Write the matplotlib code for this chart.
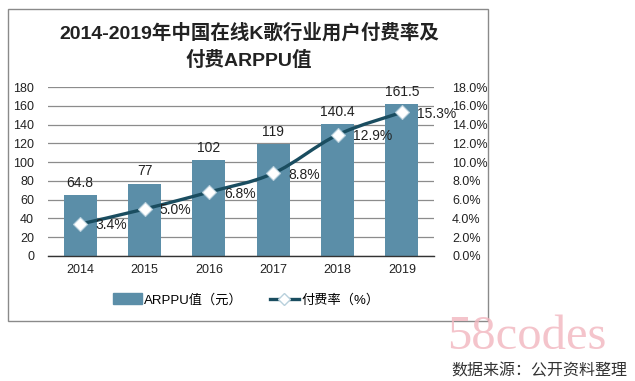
import numpy as np
import matplotlib
matplotlib.use('Agg')
import matplotlib.pyplot as plt
from matplotlib.path import Path
from matplotlib.patches import PathPatch, Rectangle
from matplotlib.lines import Line2D

plt.rcParams['font.family'] = ['Liberation Sans', 'Noto Sans CJK SC']

# --- data ---
years = ['2014', '2015', '2016', '2017', '2018', '2019']
arppu = [64.8, 77, 102, 119, 140.4, 161.5]
pay_rate = [3.4, 5.0, 6.8, 8.8, 12.9, 15.3]
arppu_labels = ['64.8', '77', '102', '119', '140.4', '161.5']
left_ticks = list(range(0, 181, 20))
right_ticks = [0, 2, 4, 6, 8, 10, 12, 14, 16, 18]

bar_color = '#5b8ea8'
line_color = '#1a4d60'
grid_color = '#8c8c8c'

fig = plt.figure(figsize=(6.35, 3.81), dpi=100)

# outer frame of the chart
fig.patches.append(Rectangle((8 / 635, 1 - 321 / 381), 480 / 635, 312 / 381,
                             transform=fig.transFigure, fill=False,
                             edgecolor='#8a8a8a', linewidth=1.0))

ax = fig.add_axes([48 / 635, 1 - 256 / 381, 386 / 635, 169 / 381])
x = np.arange(len(years))
ax.bar(x, arppu, width=0.51, color=bar_color, zorder=2)
ax.set_xlim(-0.5, len(years) - 0.5)
ax.set_ylim(0, 180)
ax.set_yticks(left_ticks)
ax.set_xticks(x)
ax.set_xticklabels(years)
ax.yaxis.grid(True, color=grid_color, linewidth=0.9, zorder=0)
ax.set_axisbelow(True)
for s in ['top', 'left', 'right']:
    ax.spines[s].set_visible(False)
ax.spines['bottom'].set_color('#333333')
ax.spines['bottom'].set_linewidth(1.0)
ax.tick_params(axis='both', length=0, labelsize=9, colors='#222222')
ax.tick_params(axis='y', pad=10)
ax.tick_params(axis='x', pad=6)

for xi, v, lab in zip(x, arppu, arppu_labels):
    ax.annotate(lab, (xi, v), xytext=(0, 4), textcoords='offset points',
                ha='center', va='bottom', fontsize=10, color='#222222')

ax2 = ax.twinx()
ax2.set_ylim(0, 18)
ax2.set_yticks(right_ticks)
ax2.set_yticklabels(['%.1f%%' % t for t in right_ticks])
for s in ['top', 'left', 'right', 'bottom']:
    ax2.spines[s].set_visible(False)
ax2.tick_params(axis='y', length=0, labelsize=9, colors='#222222', pad=13)

# smoothed line (Bezier through the data points)
px = x.astype(float)
py = np.array(pay_rate, dtype=float)
verts = [(px[0], py[0])]
codes = [Path.MOVETO]
t = 0.17
for i in range(len(px) - 1):
    p0 = (px[i - 1], py[i - 1]) if i > 0 else (px[i], py[i])
    p1 = (px[i], py[i])
    p2 = (px[i + 1], py[i + 1])
    p3 = (px[i + 2], py[i + 2]) if i + 2 < len(px) else p2
    c1 = (p1[0] + (p2[0] - p0[0]) * t, p1[1] + (p2[1] - p0[1]) * t)
    c2 = (p2[0] - (p3[0] - p1[0]) * t, p2[1] - (p3[1] - p1[1]) * t)
    verts += [c1, c2, p2]
    codes += [Path.CURVE4] * 3
ax2.add_patch(PathPatch(Path(verts, codes), fill=False, edgecolor=line_color,
                        linewidth=2.4, zorder=3, capstyle='round'))
ax2.plot(px, py, linestyle='none', marker='D', markersize=7.5,
         markerfacecolor='white', markeredgecolor='#b8d0dc',
         markeredgewidth=0.8, zorder=4)
for xi, v in zip(px, py):
    ax2.annotate('%.1f%%' % v, (xi, v), xytext=(11, -1), textcoords='offset points',
                 ha='left', va='center', fontsize=10, color='#222222', zorder=5)

# title
fig.text(249 / 635, 1 - 33 / 381, '2014-2019年中国在线K歌行业用户付费率及',
         ha='center', va='center', fontsize=14, fontweight='bold', color='#222222')
fig.text(249 / 635, 1 - 60 / 381, '付费ARPPU值',
         ha='center', va='center', fontsize=14, fontweight='bold', color='#222222')

# legend
handles = [Rectangle((0, 0), 1, 1, color=bar_color),
           Line2D([0], [0], color=line_color, linewidth=2.4, marker='D',
                  markersize=6, markerfacecolor='white', markeredgecolor='#b8d0dc')]
fig.legend(handles, ['ARPPU值（元）', '付费率（%）'], loc='center',
           bbox_to_anchor=(246 / 635, 1 - 300 / 381), ncol=2, frameon=False,
           fontsize=9.5, handlelength=2.2, handleheight=0.9, columnspacing=2.0,
           handletextpad=0.2)

# watermark and source
fig.text(527 / 635, 1 - 349 / 381, '58codes', ha='center', va='baseline',
         fontsize=35, family='Liberation Serif', color='#f2b6bf', alpha=0.8)
fig.text(627 / 635, 1 - 371 / 381, '数据来源：公开资料整理', ha='right', va='center',
         fontsize=11.5, family=['Noto Sans CJK SC'], color='#333333')

fig.savefig('out.png', dpi=100)
